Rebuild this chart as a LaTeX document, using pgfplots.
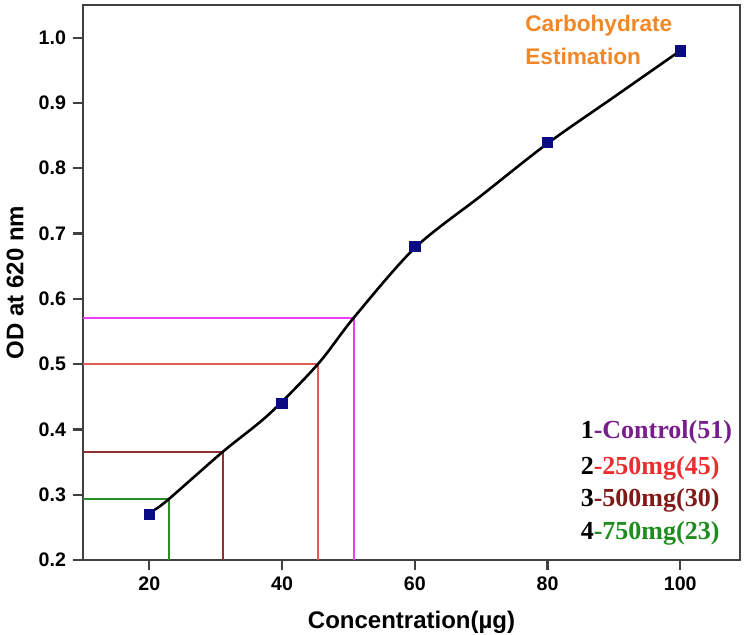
\documentclass[border=0pt]{standalone}
\usepackage{pgfplots}
\pgfplotsset{compat=1.18}
\usepackage{fontspec}
\setmainfont{Liberation Sans}
\newfontfamily\legfont{Liberation Serif}
\definecolor{navyb}{RGB}{10,10,130}
\definecolor{lgreen}{RGB}{40,140,40}
\definecolor{lbrown}{RGB}{140,50,50}
\definecolor{lred}{RGB}{225,90,90}
\definecolor{lmag}{RGB}{240,60,240}
\definecolor{tpurple}{RGB}{120,30,140}
\definecolor{tred}{RGB}{235,45,45}
\definecolor{tdred}{RGB}{130,25,25}
\definecolor{tgreen}{RGB}{30,140,30}
\definecolor{torange}{RGB}{240,135,40}
\begin{document}
\begin{tikzpicture}
\begin{axis}[name=ax, width=328.5pt, height=277.5pt, scale only axis,
  xmin=10, xmax=109, ymin=0.2, ymax=1.05,
  xtick={20,40,60,80,100},
  ytick={0.2,0.3,0.4,0.5,0.6,0.7,0.8,0.9,1.0},
  yticklabel style={/pgf/number format/.cd, fixed, fixed zerofill, precision=1},
  /pgf/number format/assume math mode=true,
  tick label style={font=\bfseries\fontsize{9.8}{11}\selectfont},
  tick align=outside, major tick length=5pt, xtick pos=bottom, ytick pos=left,
  axis line style={draw=black!75, line width=1.1pt},
  every tick/.style={draw=black!75, line width=1.1pt},
  xlabel={Concentration(µg)}, ylabel={OD at 620 nm},
  label style={font=\bfseries\fontsize{12}{14}\selectfont},
  xlabel style={at={(rel axis cs:0.5,-0.1117)}, anchor=center},
  ylabel style={at={(rel axis cs:-0.1035,0.5)}, anchor=center},
  clip=false]
\addplot[lgreen, line width=1.1pt] coordinates {(10,0.293)(22.9,0.293)(22.9,0.2)};
\addplot[lbrown, line width=1.1pt] coordinates {(10,0.366)(31.1,0.366)(31.1,0.2)};
\addplot[lred, line width=1.1pt] coordinates {(10,0.50)(45.4,0.50)(45.4,0.2)};
\addplot[lmag, line width=1.1pt] coordinates {(10,0.571)(50.8,0.571)(50.8,0.2)};
\addplot[black, line width=1.3pt, smooth, tension=0.5] coordinates {(20.8,0.277)(22.9,0.293)(31.1,0.366)(38,0.423)(45.4,0.50)(50.8,0.571)(60,0.678)(70,0.758)(80,0.838)(90,0.909)(100,0.98)};
\addplot[only marks, mark=square*, mark size=2.6pt, navyb] coordinates {(20,0.27)(40,0.44)(60,0.68)(80,0.84)(100,0.98)};
\node[anchor=west, inner sep=0pt, text=torange, font=\bfseries\fontsize{11.3}{13}\selectfont] at (axis cs:76.6,1.018) {Carbohydrate};
\node[anchor=west, inner sep=0pt, text=torange, font=\bfseries\fontsize{11.3}{13}\selectfont] at (axis cs:76.6,0.972) {Estimation};
\node[anchor=west, inner sep=0pt, font=\legfont\bfseries\fontsize{13}{15}\selectfont] at (axis cs:84.95,0.3957) {1\textcolor{tpurple}{-Control(51)}};
\node[anchor=west, inner sep=0pt, font=\legfont\bfseries\fontsize{13}{15}\selectfont] at (axis cs:84.95,0.3407) {2\textcolor{tred}{-250mg(45)}};
\node[anchor=west, inner sep=0pt, font=\legfont\bfseries\fontsize{13}{15}\selectfont] at (axis cs:84.95,0.2917) {3\textcolor{tdred}{-500mg(30)}};
\node[anchor=west, inner sep=0pt, font=\legfont\bfseries\fontsize{13}{15}\selectfont] at (axis cs:84.95,0.2413) {4\textcolor{tgreen}{-750mg(23)}};
\end{axis}
\pgfresetboundingbox
\path[use as bounding box] ([shift={(-41.5pt,-37.5pt)}]ax.south west) rectangle ([shift={(5pt,2.5pt)}]ax.north east);
\end{tikzpicture}
\end{document}
